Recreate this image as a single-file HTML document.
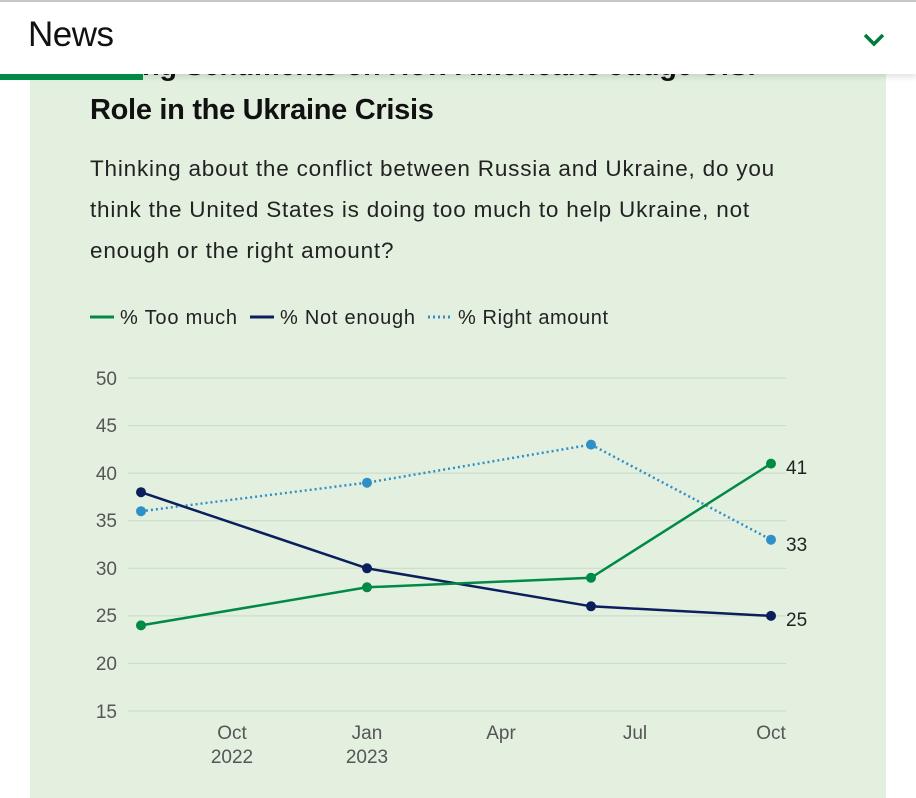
<!DOCTYPE html>
<html><head><meta charset="utf-8"><style>
body{margin:0;width:916px;height:798px;overflow:hidden;background:#fff;font-family:"Liberation Sans",sans-serif;position:relative}
#panel{position:absolute;left:30px;top:60px;width:856px;height:738px;background:#e3f0e0}
#hdr{position:absolute;left:0;top:0;width:916px;height:74px;background:#fff;border-top:2px solid #c8c8c8;box-sizing:border-box;box-shadow:0 3px 6px rgba(0,0,0,0.12);z-index:5}
#hdr .t{position:absolute;left:28px;top:13px;font-size:35px;color:#111;letter-spacing:-0.5px}
#bar{position:absolute;left:0;top:74px;width:143px;height:6px;background:#008a45;z-index:6}
.title{position:absolute;left:90px;font-weight:bold;font-size:29px;color:#111;letter-spacing:-0.3px}
.q{position:absolute;left:90px;top:148px;font-size:22.5px;line-height:41px;color:#222;width:760px;letter-spacing:0.8px;white-space:nowrap}
</style></head><body>
<div id="panel"></div>
<div class="title" style="top:50px">Rising Sentiments on How Americans Judge U.S.</div>
<div class="title" style="top:94px">Role in the Ukraine Crisis</div>
<div id="hdr"><div class="t">News</div>
<svg style="position:absolute;left:862px;top:30px" width="24" height="16"><polyline points="3,3 12,12 21,3" fill="none" stroke="#007a3d" stroke-width="3.5"/></svg></div>
<div id="bar"></div>
<div class="q">Thinking about the conflict between Russia and Ukraine, do you<br>think the United States is doing too much to help Ukraine, not<br>enough or the right amount?</div>
<svg style="position:absolute;left:0;top:0" width="916" height="798" font-family="Liberation Sans, sans-serif">
<g font-size="20" fill="#222">
<line x1="90" y1="317" x2="114" y2="317" stroke="#008a45" stroke-width="3"/><text x="120" y="324" textLength="117">% Too much</text>
<line x1="250" y1="317" x2="274" y2="317" stroke="#0b1f5c" stroke-width="3"/><text x="280" y="324" textLength="135">% Not enough</text>
<line x1="428" y1="317" x2="452" y2="317" stroke="#2f8fc8" stroke-width="3" stroke-dasharray="2,3"/><text x="458" y="324" textLength="150">% Right amount</text>
</g>
<g stroke="#c9d9c6" stroke-width="1">
<line x1="128" y1="378" x2="786" y2="378"/><line x1="128" y1="425.6" x2="786" y2="425.6"/><line x1="128" y1="473.1" x2="786" y2="473.1"/><line x1="128" y1="520.7" x2="786" y2="520.7"/><line x1="128" y1="568.3" x2="786" y2="568.3"/><line x1="128" y1="615.9" x2="786" y2="615.9"/><line x1="128" y1="663.4" x2="786" y2="663.4"/><line x1="128" y1="711" x2="786" y2="711"/>
</g>
<g font-size="19" fill="#555" text-anchor="end">
<text x="117" y="385">50</text><text x="117" y="432">45</text><text x="117" y="480">40</text><text x="117" y="527">35</text><text x="117" y="575">30</text><text x="117" y="622">25</text><text x="117" y="670">20</text><text x="117" y="718">15</text>
</g>
<g font-size="19" fill="#555" text-anchor="middle">
<text x="232" y="739">Oct</text><text x="232" y="763">2022</text>
<text x="367" y="739">Jan</text><text x="367" y="763">2023</text>
<text x="501" y="739">Apr</text><text x="635" y="739">Jul</text><text x="771" y="739">Oct</text>
</g>
<polyline points="141,511.2 367,482.7 591,444.6 771,539.7" fill="none" stroke="#2f8fc8" stroke-width="2.5" stroke-dasharray="2,3"/>
<polyline points="141,492.2 367,568.3 591,606.3 771,615.9" fill="none" stroke="#0b1f5c" stroke-width="2.5"/>
<polyline points="141,625.4 367,587.3 591,577.8 771,463.6" fill="none" stroke="#008a45" stroke-width="2.5"/>
<g fill="#2f8fc8"><circle cx="141" cy="511.2" r="5"/><circle cx="367" cy="482.7" r="5"/><circle cx="591" cy="444.6" r="5"/><circle cx="771" cy="539.7" r="5"/></g>
<g fill="#0b1f5c"><circle cx="141" cy="492.2" r="5"/><circle cx="367" cy="568.3" r="5"/><circle cx="591" cy="606.3" r="5"/><circle cx="771" cy="615.9" r="5"/></g>
<g fill="#008a45"><circle cx="141" cy="625.4" r="5"/><circle cx="367" cy="587.3" r="5"/><circle cx="591" cy="577.8" r="5"/><circle cx="771" cy="463.6" r="5"/></g>
<g font-size="19" fill="#222"><text x="786" y="474">41</text><text x="786" y="551">33</text><text x="786" y="626">25</text></g>
</svg>
</body></html>
